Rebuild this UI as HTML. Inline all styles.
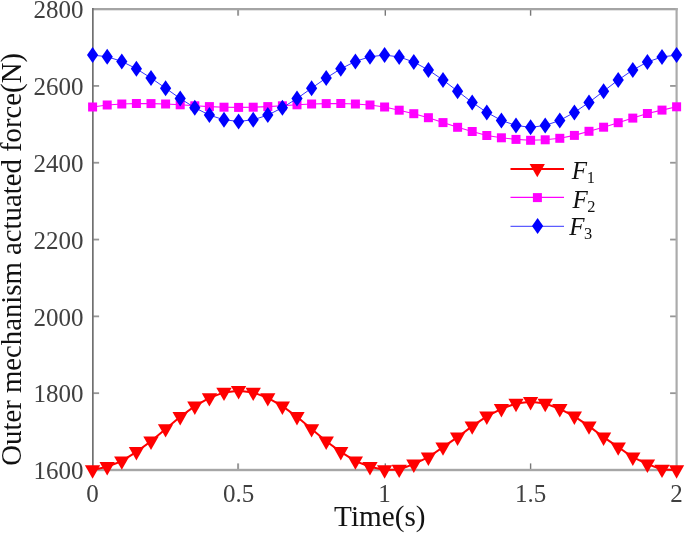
<!DOCTYPE html>
<html><head><meta charset="utf-8"><title>Outer mechanism actuated force</title>
<style>
html,body{margin:0;padding:0;background:#fff;}
body{width:685px;height:533px;overflow:hidden;}
svg{display:block;will-change:transform;filter:blur(0.4px);}
text{font-family:"Liberation Serif","Times New Roman",serif;}
.tk{font-size:25px;fill:#404040;}
.lb{font-size:29.2px;fill:#111;}
</style></head><body>
<svg width="685" height="533" viewBox="0 0 685 533">
<rect x="0" y="0" width="685" height="533" fill="#fff"/>
<g shape-rendering="geometricPrecision">
<rect x="237.10" y="463.40" width="2.00" height="5.90" fill="#999999"/>
<rect x="237.10" y="9.80" width="2.00" height="5.90" fill="#999999"/>
<rect x="384.60" y="463.40" width="1.40" height="5.90" fill="#787878"/>
<rect x="384.60" y="9.80" width="1.40" height="5.90" fill="#787878"/>
<rect x="529.90" y="463.40" width="1.40" height="5.90" fill="#787878"/>
<rect x="529.90" y="9.80" width="1.40" height="5.90" fill="#787878"/>
<rect x="93.20" y="392.28" width="5.90" height="1.80" fill="#969696"/>
<rect x="670.10" y="392.28" width="5.90" height="1.80" fill="#969696"/>
<rect x="93.20" y="315.47" width="5.90" height="1.80" fill="#969696"/>
<rect x="670.10" y="315.47" width="5.90" height="1.80" fill="#969696"/>
<rect x="93.20" y="238.65" width="5.90" height="1.80" fill="#969696"/>
<rect x="670.10" y="238.65" width="5.90" height="1.80" fill="#969696"/>
<rect x="93.20" y="161.83" width="5.90" height="1.80" fill="#969696"/>
<rect x="670.10" y="161.83" width="5.90" height="1.80" fill="#969696"/>
<rect x="93.20" y="85.02" width="5.90" height="1.80" fill="#969696"/>
<rect x="670.10" y="85.02" width="5.90" height="1.80" fill="#969696"/>
<rect x="92.00" y="8.00" width="585.70" height="2.30" fill="#a4a4a4"/>
<rect x="92.00" y="468.80" width="585.70" height="2.40" fill="#a6a6a6"/>
<rect x="675.50" y="8.00" width="2.20" height="463.20" fill="#ababab"/>
<rect x="92.00" y="8.00" width="1.70" height="463.20" fill="#707070"/>
</g>
<text class="tk" x="83.4" y="479.2" text-anchor="end">1600</text>
<text class="tk" x="83.4" y="402.4" text-anchor="end">1800</text>
<text class="tk" x="83.4" y="325.6" text-anchor="end">2000</text>
<text class="tk" x="83.4" y="248.8" text-anchor="end">2200</text>
<text class="tk" x="83.4" y="171.9" text-anchor="end">2400</text>
<text class="tk" x="83.4" y="95.1" text-anchor="end">2600</text>
<text class="tk" x="83.4" y="18.3" text-anchor="end">2800</text>
<text class="tk" x="92.6" y="502.4" text-anchor="middle">0</text>
<text class="tk" x="238.6" y="502.4" text-anchor="middle">0.5</text>
<text class="tk" x="384.6" y="502.4" text-anchor="middle">1</text>
<text class="tk" x="530.6" y="502.4" text-anchor="middle">1.5</text>
<text class="tk" x="676.6" y="502.4" text-anchor="middle">2</text>
<text class="lb" x="379.8" y="526.3" text-anchor="middle">Time(s)</text>
<text class="lb" style="font-size:28.75px" transform="translate(21.4,465.7) rotate(-90)">Outer mechanism actuated force(N)</text>
<polyline points="92.6,470.0 107.2,466.8 121.8,461.1 136.4,451.8 151.0,441.3 165.6,428.9 180.2,416.8 194.8,406.2 209.4,397.9 224.0,392.4 238.6,390.7 253.2,392.4 267.8,397.9 282.4,406.2 297.0,416.8 311.6,428.9 326.2,441.3 340.8,451.8 355.4,461.1 370.0,466.8 384.6,470.0 399.2,469.4 413.8,464.2 428.4,457.2 443.0,447.1 457.6,437.2 472.2,426.1 486.8,416.3 501.4,408.8 516.0,403.5 530.6,401.8 545.2,403.5 559.8,408.8 574.4,416.3 589.0,426.1 603.6,437.2 618.2,447.1 632.8,457.2 647.4,464.2 662.0,469.4 676.6,470.0" fill="none" stroke="#ff0000" stroke-width="2"/>
<g fill="#ff0000"><polygon points="84.9,465.3 100.2,465.3 92.6,478.7"/><polygon points="99.5,462.1 114.8,462.1 107.2,475.5"/><polygon points="114.1,456.4 129.4,456.4 121.8,469.8"/><polygon points="128.8,447.1 144.1,447.1 136.4,460.5"/><polygon points="143.3,436.6 158.7,436.6 151.0,450.0"/><polygon points="157.9,424.2 173.2,424.2 165.6,437.6"/><polygon points="172.5,412.1 187.8,412.1 180.2,425.5"/><polygon points="187.2,401.5 202.5,401.5 194.8,414.9"/><polygon points="201.8,393.2 217.1,393.2 209.4,406.6"/><polygon points="216.3,387.7 231.7,387.7 224.0,401.1"/><polygon points="230.9,386.0 246.2,386.0 238.6,399.4"/><polygon points="245.6,387.7 260.9,387.7 253.2,401.1"/><polygon points="260.2,393.2 275.4,393.2 267.8,406.6"/><polygon points="274.8,401.5 290.0,401.5 282.4,414.9"/><polygon points="289.4,412.1 304.6,412.1 297.0,425.5"/><polygon points="304.0,424.2 319.2,424.2 311.6,437.6"/><polygon points="318.6,436.6 333.9,436.6 326.2,450.0"/><polygon points="333.2,447.1 348.4,447.1 340.8,460.5"/><polygon points="347.8,456.4 363.0,456.4 355.4,469.8"/><polygon points="362.4,462.1 377.6,462.1 370.0,475.5"/><polygon points="377.0,465.3 392.2,465.3 384.6,478.7"/><polygon points="391.6,464.7 406.9,464.7 399.2,478.1"/><polygon points="406.2,459.5 421.5,459.5 413.8,472.9"/><polygon points="420.8,452.5 436.0,452.5 428.4,465.9"/><polygon points="435.4,442.4 450.6,442.4 443.0,455.8"/><polygon points="450.0,432.5 465.2,432.5 457.6,445.9"/><polygon points="464.6,421.4 479.9,421.4 472.2,434.8"/><polygon points="479.2,411.6 494.5,411.6 486.8,425.0"/><polygon points="493.8,404.1 509.0,404.1 501.4,417.5"/><polygon points="508.4,398.8 523.6,398.8 516.0,412.2"/><polygon points="523.0,397.1 538.2,397.1 530.6,410.5"/><polygon points="537.6,398.8 552.9,398.8 545.2,412.2"/><polygon points="552.2,404.1 567.5,404.1 559.8,417.5"/><polygon points="566.8,411.6 582.0,411.6 574.4,425.0"/><polygon points="581.4,421.4 596.6,421.4 589.0,434.8"/><polygon points="596.0,432.5 611.2,432.5 603.6,445.9"/><polygon points="610.6,442.4 625.9,442.4 618.2,455.8"/><polygon points="625.2,452.5 640.5,452.5 632.8,465.9"/><polygon points="639.8,459.5 655.1,459.5 647.4,472.9"/><polygon points="654.4,464.7 669.7,464.7 662.0,478.1"/><polygon points="669.0,465.3 684.2,465.3 676.6,478.7"/></g>
<polyline points="92.6,107.0 107.2,105.0 121.8,104.0 136.4,103.5 151.0,103.6 165.6,104.0 180.2,104.8 194.8,105.8 209.4,106.6 224.0,107.2 238.6,107.4 253.2,107.2 267.8,106.6 282.4,105.8 297.0,104.8 311.6,104.0 326.2,103.6 340.8,103.5 355.4,104.0 370.0,105.0 384.6,107.0 399.2,110.2 413.8,113.7 428.4,117.7 443.0,122.6 457.6,127.3 472.2,131.5 486.8,135.5 501.4,137.8 516.0,139.4 530.6,140.3 545.2,139.8 559.8,138.3 574.4,135.4 589.0,131.3 603.6,127.2 618.2,122.7 632.8,118.1 647.4,113.5 662.0,110.1 676.6,106.8" fill="none" stroke="#ff00ff" stroke-width="1.1"/>
<g fill="#ff00ff"><rect x="88.1" y="102.5" width="9.0" height="9.0"/><rect x="102.7" y="100.5" width="9.0" height="9.0"/><rect x="117.3" y="99.5" width="9.0" height="9.0"/><rect x="131.9" y="99.0" width="9.0" height="9.0"/><rect x="146.5" y="99.1" width="9.0" height="9.0"/><rect x="161.1" y="99.5" width="9.0" height="9.0"/><rect x="175.7" y="100.3" width="9.0" height="9.0"/><rect x="190.3" y="101.3" width="9.0" height="9.0"/><rect x="204.9" y="102.1" width="9.0" height="9.0"/><rect x="219.5" y="102.7" width="9.0" height="9.0"/><rect x="234.1" y="102.9" width="9.0" height="9.0"/><rect x="248.7" y="102.7" width="9.0" height="9.0"/><rect x="263.3" y="102.1" width="9.0" height="9.0"/><rect x="277.9" y="101.3" width="9.0" height="9.0"/><rect x="292.5" y="100.3" width="9.0" height="9.0"/><rect x="307.1" y="99.5" width="9.0" height="9.0"/><rect x="321.7" y="99.1" width="9.0" height="9.0"/><rect x="336.3" y="99.0" width="9.0" height="9.0"/><rect x="350.9" y="99.5" width="9.0" height="9.0"/><rect x="365.5" y="100.5" width="9.0" height="9.0"/><rect x="380.1" y="102.5" width="9.0" height="9.0"/><rect x="394.7" y="105.7" width="9.0" height="9.0"/><rect x="409.3" y="109.2" width="9.0" height="9.0"/><rect x="423.9" y="113.2" width="9.0" height="9.0"/><rect x="438.5" y="118.1" width="9.0" height="9.0"/><rect x="453.1" y="122.8" width="9.0" height="9.0"/><rect x="467.7" y="127.0" width="9.0" height="9.0"/><rect x="482.3" y="131.0" width="9.0" height="9.0"/><rect x="496.9" y="133.3" width="9.0" height="9.0"/><rect x="511.5" y="134.9" width="9.0" height="9.0"/><rect x="526.1" y="135.8" width="9.0" height="9.0"/><rect x="540.7" y="135.3" width="9.0" height="9.0"/><rect x="555.3" y="133.8" width="9.0" height="9.0"/><rect x="569.9" y="130.9" width="9.0" height="9.0"/><rect x="584.5" y="126.8" width="9.0" height="9.0"/><rect x="599.1" y="122.7" width="9.0" height="9.0"/><rect x="613.7" y="118.2" width="9.0" height="9.0"/><rect x="628.3" y="113.6" width="9.0" height="9.0"/><rect x="642.9" y="109.0" width="9.0" height="9.0"/><rect x="657.5" y="105.6" width="9.0" height="9.0"/><rect x="672.1" y="102.3" width="9.0" height="9.0"/></g>
<polyline points="92.6,55.1 107.2,56.7 121.8,61.4 136.4,68.8 151.0,78.0 165.6,88.2 180.2,98.5 194.8,107.7 209.4,115.1 224.0,119.8 238.6,121.4 253.2,119.8 267.8,115.1 282.4,107.7 297.0,98.5 311.6,88.2 326.2,78.0 340.8,68.8 355.4,61.4 370.0,56.7 384.6,55.1 399.2,56.9 413.8,62.0 428.4,70.0 443.0,80.0 457.6,91.2 472.2,102.4 486.8,112.4 501.4,120.4 516.0,125.5 530.6,127.3 545.2,125.5 559.8,120.4 574.4,112.4 589.0,102.4 603.6,91.2 618.2,80.0 632.8,70.0 647.4,62.0 662.0,56.9 676.6,55.1" fill="none" stroke="#0000ff" stroke-width="0.8"/>
<g fill="#0000ff"><polygon points="92.6,47.1 98.2,55.1 92.6,63.1 87.0,55.1"/><polygon points="107.2,48.7 112.8,56.7 107.2,64.7 101.6,56.7"/><polygon points="121.8,53.4 127.4,61.4 121.8,69.4 116.2,61.4"/><polygon points="136.4,60.8 142.0,68.8 136.4,76.8 130.8,68.8"/><polygon points="151.0,70.0 156.6,78.0 151.0,86.0 145.4,78.0"/><polygon points="165.6,80.2 171.2,88.2 165.6,96.2 160.0,88.2"/><polygon points="180.2,90.5 185.8,98.5 180.2,106.5 174.6,98.5"/><polygon points="194.8,99.7 200.4,107.7 194.8,115.7 189.2,107.7"/><polygon points="209.4,107.1 215.0,115.1 209.4,123.1 203.8,115.1"/><polygon points="224.0,111.8 229.6,119.8 224.0,127.8 218.4,119.8"/><polygon points="238.6,113.4 244.2,121.4 238.6,129.4 233.0,121.4"/><polygon points="253.2,111.8 258.8,119.8 253.2,127.8 247.6,119.8"/><polygon points="267.8,107.1 273.4,115.1 267.8,123.1 262.2,115.1"/><polygon points="282.4,99.7 288.0,107.7 282.4,115.7 276.8,107.7"/><polygon points="297.0,90.5 302.6,98.5 297.0,106.5 291.4,98.5"/><polygon points="311.6,80.2 317.2,88.2 311.6,96.2 306.0,88.2"/><polygon points="326.2,70.0 331.8,78.0 326.2,86.0 320.6,78.0"/><polygon points="340.8,60.8 346.4,68.8 340.8,76.8 335.2,68.8"/><polygon points="355.4,53.4 361.0,61.4 355.4,69.4 349.8,61.4"/><polygon points="370.0,48.7 375.6,56.7 370.0,64.7 364.4,56.7"/><polygon points="384.6,47.1 390.2,55.1 384.6,63.1 379.0,55.1"/><polygon points="399.2,48.9 404.8,56.9 399.2,64.9 393.6,56.9"/><polygon points="413.8,54.0 419.4,62.0 413.8,70.0 408.2,62.0"/><polygon points="428.4,62.0 434.0,70.0 428.4,78.0 422.8,70.0"/><polygon points="443.0,72.0 448.6,80.0 443.0,88.0 437.4,80.0"/><polygon points="457.6,83.2 463.2,91.2 457.6,99.2 452.0,91.2"/><polygon points="472.2,94.4 477.8,102.4 472.2,110.4 466.6,102.4"/><polygon points="486.8,104.4 492.4,112.4 486.8,120.4 481.2,112.4"/><polygon points="501.4,112.4 507.0,120.4 501.4,128.4 495.8,120.4"/><polygon points="516.0,117.5 521.6,125.5 516.0,133.5 510.4,125.5"/><polygon points="530.6,119.3 536.2,127.3 530.6,135.3 525.0,127.3"/><polygon points="545.2,117.5 550.8,125.5 545.2,133.5 539.6,125.5"/><polygon points="559.8,112.4 565.4,120.4 559.8,128.4 554.2,120.4"/><polygon points="574.4,104.4 580.0,112.4 574.4,120.4 568.8,112.4"/><polygon points="589.0,94.4 594.6,102.4 589.0,110.4 583.4,102.4"/><polygon points="603.6,83.2 609.2,91.2 603.6,99.2 598.0,91.2"/><polygon points="618.2,72.0 623.8,80.0 618.2,88.0 612.6,80.0"/><polygon points="632.8,62.0 638.4,70.0 632.8,78.0 627.2,70.0"/><polygon points="647.4,54.0 653.0,62.0 647.4,70.0 641.8,62.0"/><polygon points="662.0,48.9 667.6,56.9 662.0,64.9 656.4,56.9"/><polygon points="676.6,47.1 682.2,55.1 676.6,63.1 671.0,55.1"/></g>
<line x1="510.5" y1="169" x2="564" y2="169" stroke="#ff0000" stroke-width="2"/>
<g fill="#ff0000"><polygon points="529.6,163.9 544.9,163.9 537.3,177.3"/></g>
<line x1="510.5" y1="197.4" x2="564" y2="197.4" stroke="#ff00ff" stroke-width="1.1"/>
<g fill="#ff00ff"><rect x="532.9" y="193.1" width="9.0" height="9.0"/></g>
<line x1="510.5" y1="226.3" x2="564" y2="226.3" stroke="#0000ff" stroke-width="0.8"/>
<g fill="#0000ff"><polygon points="537.6,218.0 543.2,226.0 537.6,234.0 532.0,226.0"/></g>
<text x="571.8" y="178.5" style="font-size:25px;fill:#111"><tspan font-style="italic">F</tspan><tspan style="font-size:16.4px" dx="-0.4" dy="4">1</tspan></text>
<text x="572.4" y="207.9" style="font-size:25px;fill:#111"><tspan font-style="italic">F</tspan><tspan style="font-size:16.4px" dx="-0.4" dy="4">2</tspan></text>
<text x="569.2" y="235.4" style="font-size:25px;fill:#111"><tspan font-style="italic">F</tspan><tspan style="font-size:16.4px" dx="-0.4" dy="4">3</tspan></text>
</svg></body></html>
